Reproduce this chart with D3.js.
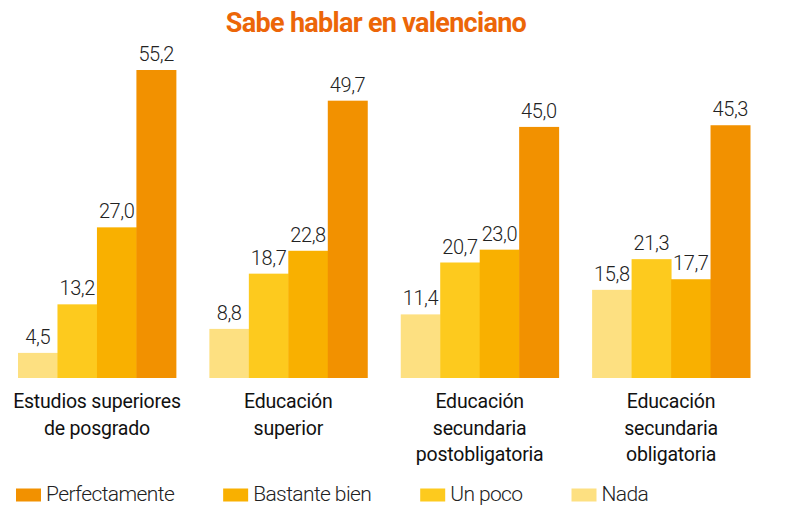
<!DOCTYPE html>
<html>
<head>
<meta charset="utf-8">
<script src="https://cdn.jsdelivr.net/npm/d3@7"></script>
<style>
  body { margin: 0; background: #fff; }
  text { font-family: Roboto, "Noto Sans", sans-serif; }
</style>
</head>
<body>
<div id="chart"></div>
<script>
// data
var groups = [
  ["Estudios superiores", "de posgrado"],
  ["Educación", "superior"],
  ["Educación", "secundaria", "postobligatoria"],
  ["Educación", "secundaria", "obligatoria"]
];
var seriesNames = ["Nada", "Un poco", "Bastante bien", "Perfectamente"];
var nada = [4.5, 8.8, 11.4, 15.8];
var unPoco = [13.2, 18.7, 20.7, 21.3];
var bastanteBien = [27.0, 22.8, 23.0, 17.7];
var perfectamente = [55.2, 49.7, 45.0, 45.3];
var legendOrder = ["Perfectamente", "Bastante bien", "Un poco", "Nada"];

var colors = {
  "Nada": "#fde081",
  "Un poco": "#fdca1e",
  "Bastante bien": "#f9b000",
  "Perfectamente": "#f29100"
};

var seriesValues = [nada, unPoco, bastanteBien, perfectamente];

var width = 810, height = 506;

var svg = d3.select("#chart")
  .append("svg")
  .attr("width", width)
  .attr("height", height);

var fmt = d3.formatLocale({ decimal: ",", thousands: ".", grouping: [3], currency: ["", "€"] }).format(".1f");

var groupIds = groups.map(function(d, i) { return i; });

var x0 = d3.scaleBand().domain(groupIds).range([18, 750]).paddingInner(0.175);
var x1 = d3.scaleBand().domain(seriesNames).range([0, x0.bandwidth()]);
var y = d3.scaleLinear().domain([0, 55.2]).range([378, 70]);

// title
svg.append("text")
  .attr("x", 376)
  .attr("y", 32)
  .attr("text-anchor", "middle")
  .attr("font-size", "27px")
  .attr("font-weight", "bold")
  .attr("letter-spacing", "-0.7px")
  .attr("fill", "#ec6608")
  .attr("class", "title")
  .text("Sabe hablar en valenciano");

var g = svg.selectAll(".group")
  .data(groupIds)
  .enter()
  .append("g")
  .attr("class", "group")
  .attr("transform", function(d) { return "translate(" + x0(d) + ",0)"; });

g.selectAll("rect")
  .data(function(gi) {
    return seriesNames.map(function(s, si) { return { name: s, value: seriesValues[si][gi] }; });
  })
  .enter()
  .append("rect")
  .attr("x", function(d) { return x1(d.name); })
  .attr("y", function(d) { return y(d.value); })
  .attr("width", x1.bandwidth() + 0.5)
  .attr("height", function(d) { return y(0) - y(d.value); })
  .attr("fill", function(d) { return colors[d.name]; });

g.selectAll(".val")
  .data(function(gi) {
    return seriesNames.map(function(s, si) { return { name: s, value: seriesValues[si][gi] }; });
  })
  .enter()
  .append("text")
  .attr("class", "val")
  .attr("x", function(d) { return x1(d.name) + x1.bandwidth() / 2; })
  .attr("y", function(d) { return y(d.value) - 9; })
  .attr("text-anchor", "middle")
  .attr("font-size", "20px")
  .attr("font-weight", 300)
  .attr("letter-spacing", "-0.4px")
  .attr("fill", "#222")
  .text(function(d) { return fmt(d.value); });

// category labels
g.append("text")
  .attr("text-anchor", "middle")
  .attr("font-size", "19.5px")
  .attr("letter-spacing", "-0.2px")
  .attr("fill", "#111")
  .selectAll("tspan")
  .data(function(gi) { return groups[gi]; })
  .enter()
  .append("tspan")
  .attr("x", x0.bandwidth() / 2)
  .attr("y", function(d, i) { return 408 + i * 26.5; })
  .text(function(d) { return d; });

// legend
var lx = 16;
legendOrder.forEach(function(name) {
  svg.append("rect")
    .attr("x", lx)
    .attr("y", 488.5)
    .attr("width", 25)
    .attr("height", 13)
    .attr("fill", colors[name]);
  var t = svg.append("text")
    .attr("x", lx + 30)
    .attr("y", 501)
    .attr("font-size", "21px")
    .attr("font-weight", 300)
    .attr("letter-spacing", "-0.6px")
    .attr("fill", "#222")
    .text(name);
  lx = lx + 30 + t.node().getComputedTextLength() + 49;
});
</script>
</body>
</html>
